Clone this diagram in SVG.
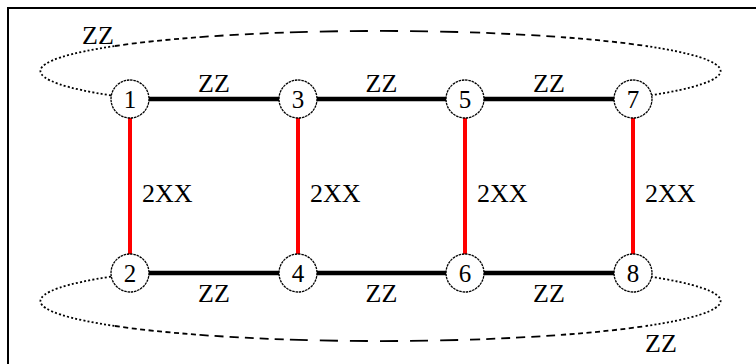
<svg xmlns="http://www.w3.org/2000/svg" width="756" height="364" viewBox="0 0 756 364">
  <defs>
    <style>
      .frame { fill: none; stroke: #000; stroke-width: 2; }
      .zz { stroke: #000; stroke-width: 4.5; stroke-linecap: butt; }
      .xx { stroke: #ff0000; stroke-width: 4; }
      .loop { fill: none; stroke: #000; stroke-width: 1.8; }
      .dot { stroke-dasharray: 2 2.2; }
      .dash1 { stroke-dasharray: 5 3.5; }
      .dash2 { stroke-dasharray: 9 6; }
      .dash3 { stroke-dasharray: 18 12; }
      .node circle { fill: #fff; stroke: #000; stroke-width: 1.3; stroke-dasharray: 2.5 0.8; }
      .node text { font-family: "Liberation Serif", "Times New Roman", serif; font-size: 25px; text-anchor: middle; fill: #000; }
      .lbl { font-family: "Liberation Serif", "Times New Roman", serif; font-size: 26px; fill: #000; }
      .mid { text-anchor: middle; }
    </style>
  </defs>

  <rect x="0" y="0" width="756" height="364" fill="#fff"/>
  <rect class="frame" x="8" y="8" width="770" height="380"/>

  <!-- periodic ZZ loops -->
  <g id="connectors">
    <!-- top loop: ellipse cx 380.5, cy 71, rx 340, ry 40 -->
    <path class="loop dot" d="M111,95.4 A340,40 0 0 1 115,46"/>
    <path class="loop dash1" d="M115,46 A340,40 0 0 1 200,37.1"/>
    <path class="loop dash2" d="M200,37.1 A340,40 0 0 1 290,32.4"/>
    <path class="loop dash3" d="M290,32.4 A340,40 0 0 1 471,32.4"/>
    <path class="loop dash2" d="M471,32.4 A340,40 0 0 1 561,37.1"/>
    <path class="loop dash1" d="M561,37.1 A340,40 0 0 1 646,46"/>
    <path class="loop dot" d="M646,46 A340,40 0 0 1 650,95.4"/>

    <!-- bottom loop: ellipse cx 380.5, cy 301, rx 340, ry 40 -->
    <path class="loop dot" d="M111,276.6 A340,40 0 0 0 115,326"/>
    <path class="loop dash1" d="M115,326 A340,40 0 0 0 200,334.9"/>
    <path class="loop dash2" d="M200,334.9 A340,40 0 0 0 290,339.6"/>
    <path class="loop dash3" d="M290,339.6 A340,40 0 0 0 471,339.6"/>
    <path class="loop dash2" d="M471,339.6 A340,40 0 0 0 561,334.9"/>
    <path class="loop dash1" d="M561,334.9 A340,40 0 0 0 646,326"/>
    <path class="loop dot" d="M646,326 A340,40 0 0 0 650,276.6"/>

    <!-- ZZ bonds -->
    <line class="zz" x1="130" y1="99" x2="633" y2="99"/>
    <line class="zz" x1="130" y1="273" x2="633" y2="273"/>

    <!-- 2XX rungs -->
    <line class="xx" x1="130" y1="99" x2="130" y2="273"/>
    <line class="xx" x1="298" y1="99" x2="298" y2="273"/>
    <line class="xx" x1="465" y1="99" x2="465" y2="273"/>
    <line class="xx" x1="633" y1="99" x2="633" y2="273"/>
  </g>

  <!-- bond labels -->
  <g id="labels">
    <text class="lbl" x="82" y="44">ZZ</text>
    <text class="lbl" x="645" y="352">ZZ</text>
    <text class="lbl mid" x="214" y="92">ZZ</text>
    <text class="lbl mid" x="381.5" y="92">ZZ</text>
    <text class="lbl mid" x="549" y="92">ZZ</text>
    <text class="lbl mid" x="214" y="302">ZZ</text>
    <text class="lbl mid" x="381.5" y="302">ZZ</text>
    <text class="lbl mid" x="549" y="302">ZZ</text>
    <text class="lbl" x="142" y="202">2XX</text>
    <text class="lbl" x="310" y="202">2XX</text>
    <text class="lbl" x="477" y="202">2XX</text>
    <text class="lbl" x="645" y="202">2XX</text>
  </g>

  <!-- sites -->
  <g id="n1" class="node"><circle cx="130" cy="99" r="19"/><text x="130" y="108">1</text></g>
  <g id="n3" class="node"><circle cx="298" cy="99" r="19"/><text x="298" y="108">3</text></g>
  <g id="n5" class="node"><circle cx="465" cy="99" r="19"/><text x="465" y="108">5</text></g>
  <g id="n7" class="node"><circle cx="633" cy="99" r="19"/><text x="633" y="108">7</text></g>
  <g id="n2" class="node"><circle cx="130" cy="273" r="19"/><text x="130" y="282">2</text></g>
  <g id="n4" class="node"><circle cx="298" cy="273" r="19"/><text x="298" y="282">4</text></g>
  <g id="n6" class="node"><circle cx="465" cy="273" r="19"/><text x="465" y="282">6</text></g>
  <g id="n8" class="node"><circle cx="633" cy="273" r="19"/><text x="633" y="282">8</text></g>
</svg>
